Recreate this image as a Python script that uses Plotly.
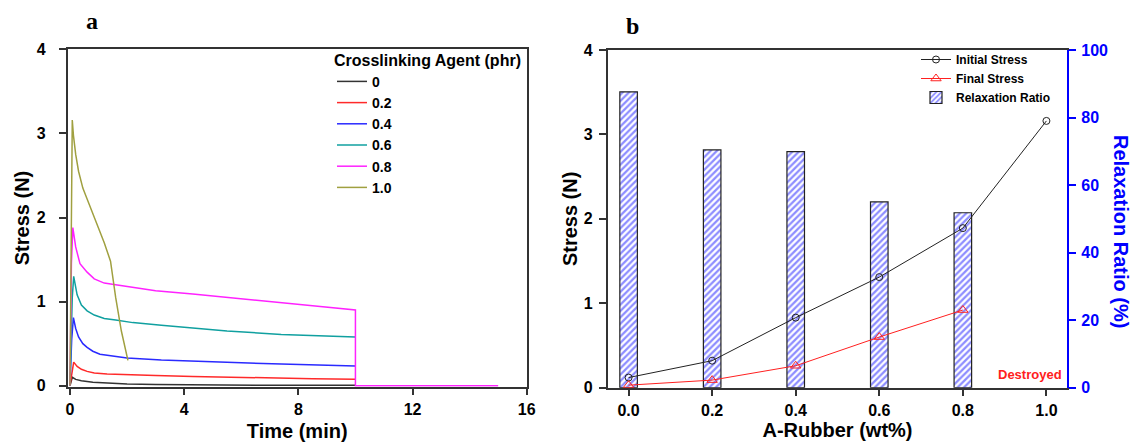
import plotly.graph_objects as go

# ---------------- Panel a: stress relaxation curves ----------------
legend_labels = ["0", "0.2", "0.4", "0.6", "0.8", "1.0"]

t_00 = [0, 0.05, 0.08, 0.2, 0.4, 0.8, 1.3, 2.0, 3.0, 4.6, 7.0, 10.0]
s_00 = [0, 0.08, 0.10, 0.075, 0.06, 0.04, 0.03, 0.02, 0.015, 0.008, 0.005, 0.004]

t_02 = [0, 0.08, 0.13, 0.25, 0.4, 0.6, 0.85, 1.3, 2.0, 3.0, 4.3, 5.5, 7.4, 8.5, 10.0]
s_02 = [0, 0.20, 0.28, 0.23, 0.195, 0.17, 0.15, 0.14, 0.13, 0.12, 0.11, 0.10, 0.088, 0.083, 0.078]

t_04 = [0, 0.06, 0.12, 0.2, 0.3, 0.45, 0.6, 0.8, 1.05, 1.5, 2.0, 3.2, 4.5, 5.5, 7.4, 10.0]
s_04 = [0, 0.55, 0.81, 0.68, 0.58, 0.50, 0.455, 0.41, 0.375, 0.35, 0.33, 0.305, 0.29, 0.277, 0.257, 0.235]

t_06 = [0, 0.08, 0.13, 0.25, 0.4, 0.6, 0.85, 1.2, 1.6, 2.2, 3.2, 4.5, 5.5, 7.4, 8.5, 10.0]
s_06 = [0, 1.05, 1.30, 1.08, 0.96, 0.89, 0.84, 0.80, 0.78, 0.75, 0.72, 0.68, 0.65, 0.61, 0.60, 0.58]

t_08 = [0, 0.05, 0.1, 0.2, 0.35, 0.6, 0.85, 1.2, 1.6, 2.0, 3.0, 4.3, 6.0, 7.4, 8.5, 10.0, 10.0, 15.0]
s_08 = [0, 1.45, 1.88, 1.65, 1.45, 1.35, 1.27, 1.22, 1.20, 1.18, 1.13, 1.09, 1.03, 0.98, 0.95, 0.90, 0.0, 0.0]

t_10 = [0, 0.05, 0.08, 0.12, 0.2, 0.3, 0.45, 0.6, 0.8, 1.0, 1.2, 1.42, 1.6, 1.8, 2.03]
s_10 = [0, 2.40, 3.16, 2.98, 2.75, 2.55, 2.35, 2.22, 2.05, 1.88, 1.70, 1.48, 1.05, 0.65, 0.30]

curve_t = [t_00, t_02, t_04, t_06, t_08, t_10]
curve_s = [s_00, s_02, s_04, s_06, s_08, s_10]
curve_colors = ["#333333", "#ff2a2a", "#2a2aff", "#10a0a0", "#ff22ff", "#a0a040"]

# ---------------- Panel b: summary ----------------
rubber = [0.0, 0.2, 0.4, 0.6, 0.8, 1.0]
initial_stress = [0.12, 0.32, 0.83, 1.31, 1.89, 3.16]
final_rubber = [0.0, 0.2, 0.4, 0.6, 0.8]
final_stress = [0.03, 0.09, 0.26, 0.60, 0.92]
ratio_rubber = [0.0, 0.2, 0.4, 0.6, 0.8]
relaxation_ratio = [87.6, 70.4, 69.9, 55.0, 51.8]

FONT = "Liberation Sans, Arial, sans-serif"
SERIF = "Liberation Serif, Times New Roman, serif"
W, H = 1134, 442

def px_x(p):
    return p / W

def px_y(p):
    return (H - p) / H

fig = go.Figure()

for lab, tt, ss, col in zip(legend_labels, curve_t, curve_s, curve_colors):
    fig.add_trace(go.Scatter(x=tt, y=ss, mode="lines", name=lab,
                             line=dict(color=col, width=1.5),
                             xaxis="x", yaxis="y", legend="legend"))

# bars on base axis y2 (right, blue), lines on overlay y3 (left, stress)
fig.add_trace(go.Bar(x=ratio_rubber, y=relaxation_ratio, width=0.042,
                     name="Relaxation Ratio",
                     marker=dict(color="white",
                                 line=dict(color="#222222", width=1.2),
                                 pattern=dict(shape="/", fgcolor="#1a1aff", bgcolor="white",
                                              size=4.5, solidity=0.5)),
                     xaxis="x2", yaxis="y2", legend="legend2", legendrank=3))
fig.add_trace(go.Scatter(x=rubber, y=initial_stress, mode="lines+markers", name="Initial Stress",
                         line=dict(color="#222222", width=1),
                         marker=dict(symbol="circle-open", size=7, color="#222222", line=dict(width=1)),
                         xaxis="x2", yaxis="y3", legend="legend2", legendrank=1))
fig.add_trace(go.Scatter(x=final_rubber, y=final_stress, mode="lines+markers", name="Final Stress",
                         line=dict(color="#ff2020", width=1),
                         marker=dict(symbol="triangle-up-open", size=9, color="#ff2020", line=dict(width=1)),
                         xaxis="x2", yaxis="y3", legend="legend2", legendrank=2))

axcol = "#333333"
tickfont = dict(family=FONT, size=16, color="black", weight="bold")
titlefont = dict(family=FONT, size=20, color="black", weight="bold")

fig.update_layout(
    width=W, height=H,
    margin=dict(l=0, r=0, t=0, b=0, autoexpand=False),
    paper_bgcolor="white", plot_bgcolor="white",
    showlegend=True,
    barmode="overlay",
    xaxis=dict(domain=[px_x(67.7), px_x(526.7)], range=[-0.08, 16], anchor="y",
               tickvals=[0, 4, 8, 12, 16], ticks="outside", ticklen=7, tickwidth=1.5,
               tickcolor=axcol, showline=True, linecolor=axcol, linewidth=1.5, mirror=True,
               showgrid=False, zeroline=False, tickfont=tickfont, ticklabelstandoff=0,
               layer="below traces", automargin=False,
               title=dict(text="Time (min)", font=titlefont, standoff=20)),
    yaxis=dict(domain=[px_y(386.7), px_y(49.3)], range=[-0.012, 4], anchor="x",
               tickvals=[0, 1, 2, 3, 4], ticks="outside", ticklen=7, tickwidth=1.5,
               tickcolor=axcol, showline=True, linecolor=axcol, linewidth=1.5, mirror=True,
               showgrid=False, zeroline=False, tickfont=tickfont, ticklabelstandoff=10,
               layer="below traces", automargin=False,
               title=dict(text="Stress (N)", font=titlefont, standoff=2)),
    xaxis2=dict(domain=[px_x(607.7), px_x(1067.3)], range=[-0.05, 1.05], anchor="y3",
                tickvals=rubber, tickformat=".1f", ticks="outside", ticklen=7, tickwidth=1.5,
                tickcolor=axcol, showline=True, linecolor=axcol, linewidth=1.5, mirror=True,
                showgrid=False, zeroline=False, tickfont=tickfont, ticklabelstandoff=0,
                automargin=False,
                title=dict(text="A-Rubber (wt%)", font=titlefont, standoff=0)),
    yaxis2=dict(domain=[px_y(387.7), px_y(50)], range=[0, 100], anchor="x2", side="right",
                tickvals=[0, 20, 40, 60, 80, 100], ticks="outside", ticklen=7, tickwidth=1.5,
                tickcolor="#0000ff", showline=True, linecolor="#0000ff", linewidth=1.5,
                showgrid=False, zeroline=False, ticklabelstandoff=2, automargin=False,
                tickfont=dict(family=FONT, size=16, color="#0000ff", weight="bold")),
    yaxis3=dict(range=[0, 4], overlaying="y2", anchor="x2", side="left",
                tickvals=[0, 1, 2, 3, 4], ticks="outside", ticklen=7, tickwidth=1.5,
                tickcolor=axcol, showline=True, linecolor=axcol, linewidth=1.5,
                showgrid=False, zeroline=False, tickfont=tickfont, ticklabelstandoff=3,
                automargin=False,
                title=dict(text="Stress (N)", font=titlefont, standoff=1)),
    legend=dict(x=px_x(332), y=px_y(45), xanchor="left", yanchor="top",
                bgcolor="rgba(0,0,0,0)", borderwidth=0,
                font=dict(family=FONT, size=14, color="black", weight="bold"),
                title=dict(text="Crosslinking Agent (phr)",
                           font=dict(family=FONT, size=16, color="black", weight="bold")),
                tracegroupgap=0, itemwidth=30),
    legend2=dict(x=px_x(916), y=px_y(45), xanchor="left", yanchor="top",
                 bgcolor="rgba(0,0,0,0)", borderwidth=0,
                 font=dict(family=FONT, size=12, color="black", weight="bold"),
                 tracegroupgap=0, itemwidth=30),
    annotations=[
        dict(text="a", x=px_x(92), y=px_y(21), xref="paper", yref="paper", showarrow=False,
             xanchor="center", yanchor="middle",
             font=dict(family=SERIF, size=24, color="black", weight="bold")),
        dict(text="b", x=px_x(632), y=px_y(26), xref="paper", yref="paper", showarrow=False,
             xanchor="center", yanchor="middle",
             font=dict(family=SERIF, size=24, color="black", weight="bold")),
        dict(text="Relaxation Ratio (%)", x=px_x(1121.7), y=px_y(231.7), xref="paper", yref="paper",
             showarrow=False, textangle=90, xanchor="center", yanchor="middle",
             font=dict(family=FONT, size=20, color="#0000ff", weight="bold")),
        dict(text="Destroyed", x=0.96, y=0.16, xref="x2", yref="y3", showarrow=False,
             xanchor="center", yanchor="middle",
             font=dict(family=FONT, size=13, color="#ff2020", weight="bold")),
    ],
)

fig.write_html("out.html")
